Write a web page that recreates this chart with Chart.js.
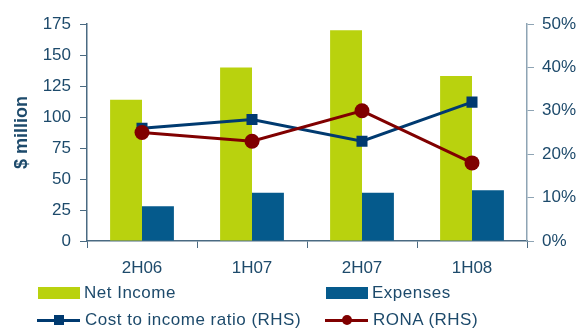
<!DOCTYPE html>
<html>
<head>
<meta charset="utf-8">
<script src="https://cdn.jsdelivr.net/npm/chart.js@4.4.0/dist/chart.umd.min.js"></script>
<style>
  body { margin: 0; background: #fff; }
  #wrap { position: relative; width: 587px; height: 329px; }
  #legend { font: 17px "Liberation Sans", Arial, sans-serif; color: #1d4a6b; letter-spacing: 0.5px; }
  .item { position: absolute; display: flex; align-items: center; height: 22px; white-space: nowrap; }
  .swatch { width: 42px; height: 12px; margin-right: 4px; }
  .line { position: relative; width: 43px; height: 3px; margin-right: 5px; }
  .marker { position: absolute; left: 50%; top: 50%; width: 10px; height: 10px; transform: translate(-50%, -50%); }
</style>
</head>
<body>
<div id="wrap">
  <canvas id="resultsChart" width="587" height="329"></canvas>
  <div id="legend"></div>
</div>
<script>
// half-year periods
const categories = ["2H06", "1H07", "2H07", "1H08"];

// $ million (left axis)
const netIncome = [114, 140, 170, 133];
const expenses = [28, 39, 39, 41];

// percent (right axis)
const costToIncome = [26, 28, 23, 32];
const rona = [25, 23, 30, 18];

const leftMax = 175;
const leftStep = 25;
const rightMax = 50;
const rightStep = 10;

const textColor = "#1d4a6b";
const axisColor = "#4a6a82";
const font = { family: "'Liberation Sans', Arial, sans-serif", size: 17 };

const datasets = [
  {
    type: "line",
    label: "RONA (RHS)",
    data: rona,
    yAxisID: "y1",
    borderColor: "#800000",
    backgroundColor: "#800000",
    borderWidth: 3,
    pointStyle: "circle",
    pointRadius: 7.5,
    pointBorderWidth: 0,
    order: 0,
  },
  {
    type: "line",
    label: "Cost to income ratio (RHS)",
    data: costToIncome,
    yAxisID: "y1",
    borderColor: "#003a70",
    backgroundColor: "#003a70",
    borderWidth: 3,
    pointStyle: "rect",
    pointRadius: 7.8,
    pointBorderWidth: 0,
    order: 1,
  },
  {
    label: "Net Income",
    data: netIncome,
    yAxisID: "y",
    backgroundColor: "#b9d20e",
    categoryPercentage: 0.58,
    barPercentage: 1,
    order: 2,
  },
  {
    label: "Expenses",
    data: expenses,
    yAxisID: "y",
    backgroundColor: "#055a8c",
    categoryPercentage: 0.58,
    barPercentage: 1,
    order: 3,
  },
];

new Chart(document.getElementById("resultsChart"), {
  type: "bar",
  data: { labels: categories, datasets },
  options: {
    responsive: false,
    animation: false,
    layout: { padding: { top: 24, left: 0, right: 0, bottom: 0 } },
    plugins: {
      legend: { display: false },
      tooltip: { enabled: false },
    },
    scales: {
      x: {
        grid: { drawOnChartArea: false, offset: true, tickLength: 7, color: axisColor },
        border: { color: axisColor, width: 1.5 },
        ticks: { color: textColor, font, padding: 10 },
        afterFit: (scale) => { scale.height = 88; },
      },
      y: {
        position: "left",
        min: 0,
        max: leftMax,
        ticks: { stepSize: leftStep, color: textColor, font, padding: 9 },
        grid: { drawOnChartArea: false, tickLength: 7, color: axisColor },
        border: { color: axisColor, width: 1.5 },
        title: {
          display: true,
          text: "$ million",
          color: textColor,
          font: { family: font.family, size: 18, weight: "bold" },
          padding: { top: 11, bottom: 0 },
        },
        afterFit: (scale) => { scale.width = 87; },
      },
      y1: {
        position: "right",
        min: 0,
        max: rightMax,
        ticks: {
          stepSize: rightStep,
          color: textColor,
          font,
          padding: 8,
          callback: (v) => v + "%",
        },
        grid: { drawOnChartArea: false, tickLength: 7, color: "#8ea4b4" },
        border: { color: "#8ea4b4", width: 1.5 },
        afterFit: (scale) => { scale.width = 60; },
      },
    },
  },
});

// two-column legend under the axis
const legendSpots = {
  "Net Income": [38, 282],
  "Expenses": [326, 282],
  "Cost to income ratio (RHS)": [37, 309],
  "RONA (RHS)": [325, 309],
};

const legend = document.getElementById("legend");
datasets.forEach((ds) => {
  const [left, top] = legendSpots[ds.label];
  const item = document.createElement("div");
  item.className = "item";
  item.style.left = left + "px";
  item.style.top = top + "px";

  if (ds.type === "line") {
    const line = document.createElement("div");
    line.className = "line";
    line.style.background = ds.borderColor;
    const marker = document.createElement("div");
    marker.className = "marker";
    marker.style.background = ds.borderColor;
    if (ds.pointStyle === "circle") marker.style.borderRadius = "50%";
    line.appendChild(marker);
    item.appendChild(line);
  } else {
    const swatch = document.createElement("div");
    swatch.className = "swatch";
    swatch.style.background = ds.backgroundColor;
    item.appendChild(swatch);
  }

  const text = document.createElement("span");
  text.textContent = ds.label;
  item.appendChild(text);
  legend.appendChild(item);
});
</script>
</body>
</html>
